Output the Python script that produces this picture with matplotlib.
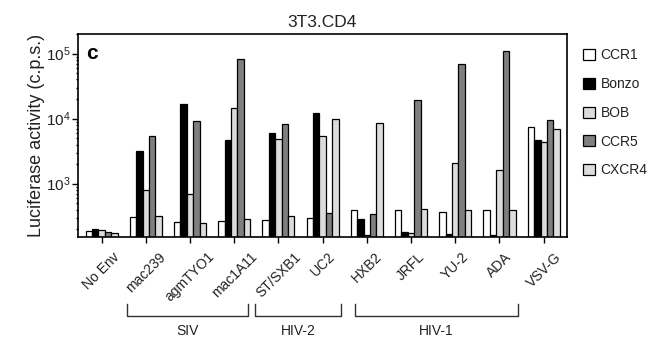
import matplotlib
matplotlib.use("Agg")
import matplotlib.pyplot as plt
import matplotlib.transforms as mtransforms
from matplotlib.patches import Patch
import numpy as np

plt.rcParams['font.family'] = ['Liberation Sans', 'DejaVu Sans']

envs = ["No Env", "mac239", "agmTYO1", "mac1A11", "ST/SXB1", "UC2",
        "HXB2", "JRFL", "YU-2", "ADA", "VSV-G"]
receptors = ["CCR1", "Bonzo", "BOB", "CCR5", "CXCR4"]

ccr1 = [189, 303, 258, 267, 279, 293, 394, 394, 361, 394, 7450]
bonzo = [203, 3220, 17000, 4750, 6030, 12400, 290, 178, 170, 160, 4750]
bob = [191, 800, 701, 14400, 4860, 5350, 162, 174, 2050, 1640, 4330]
ccr5 = [183, 5350, 9080, 82800, 8170, 354, 342, 19600, 69300, 110000, 9550]
cxcr4 = [174, 318, 248, 286, 314, 9770, 8480, 412, 394, 394, 7020]

groups = ["SIV", "HIV-2", "HIV-1"]
group_spans = [(0.57, 3.32), (3.48, 5.41), (5.73, 9.41)]

colors = ["white", "black", "#dcdcdc", "#7f7f7f", "#dcdcdc"]

fig = plt.figure(figsize=(6.51, 3.39), dpi=100)
ax = fig.add_axes([0.1194, 0.300, 0.7511, 0.5997])

x = np.arange(len(envs))
w = 0.145
series = [ccr1, bonzo, bob, ccr5, cxcr4]
for i, vals in enumerate(series):
    ax.bar(x + (i - 2) * w, np.array(vals) - 1, width=w, bottom=1,
           color=colors[i], edgecolor="black", linewidth=0.9)

ax.set_yscale("log")
ax.set_ylim(150, 2.0e5)
ax.set_xlim(-0.54, 10.52)
ax.set_yticks([1e3, 1e4, 1e5])
ax.tick_params(axis="y", which="major", direction="out", length=4, width=1,
               labelsize=11, pad=1, labelcolor="#222222")
ax.tick_params(axis="y", which="minor", direction="out", length=1.5, width=1)
ax.set_xticks(x)
ax.set_xticklabels(envs, rotation=45, ha="center", va="top", fontsize=10,
                   color="#222222")
ax.tick_params(axis="x", direction="out", length=4, width=1, pad=5)
for s in ax.spines.values():
    s.set_linewidth(1.2)

ax.set_title("3T3.CD4", fontsize=12.5, pad=5, color="#222222")
ax.set_ylabel("Luciferase activity (c.p.s.)", fontsize=13, labelpad=1,
              color="#222222")
ax.text(0.018, 0.905, "c", transform=ax.transAxes, fontsize=15,
        fontweight="black", va="center", ha="left")

# brackets for virus groups
trans = mtransforms.blended_transform_factory(ax.transData, ax.transAxes)
for name, (a, b) in zip(groups, group_spans):
    ax.plot([a, a, b, b], [-0.328, -0.386, -0.386, -0.328], color="#333333",
            linewidth=1.0, transform=trans, clip_on=False)
    ax.text((a + b) / 2, -0.462, name, transform=trans, ha="center",
            va="center", fontsize=10, color="#222222")

handles = [Patch(facecolor=c, edgecolor="black", linewidth=0.9) for c in colors]
fig.legend(handles, receptors, loc="upper left", bbox_to_anchor=(0.896, 0.857),
           frameon=False, fontsize=10, handlelength=0.85, handleheight=0.85,
           handletextpad=0.4, labelspacing=1.06, borderaxespad=0, borderpad=0,
           labelcolor="#222222")

fig.savefig("out.png", dpi=100)
